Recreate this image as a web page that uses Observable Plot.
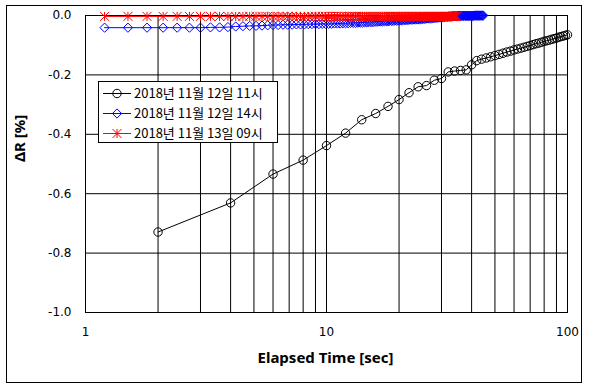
<!DOCTYPE html>
<html>
<head>
<meta charset="utf-8">
<script src="https://cdn.jsdelivr.net/npm/d3@7"></script>
<script src="https://cdn.jsdelivr.net/npm/@observablehq/plot@0.6"></script>
<style>
  body { margin: 0; background: #fff; }
  #wrap { position: relative; width: 589px; height: 388px; overflow: hidden; background: #fff; }
  #frame { position: absolute; left: 6px; top: 5px; width: 576px; height: 378px; box-sizing: border-box; border: 1px solid #000; }
  #wrap svg { position: absolute; left: 0; top: 0; }
</style>
</head>
<body>
<div id="wrap"><div id="frame"></div></div>
<script>
// ---- data ----
const seriesNames = ["2018년 11월 12일 11시", "2018년 11월 12일 14시", "2018년 11월 13일 09시"];
const seriesColors = ["#000000", "#0000ff", "#ff0000"];

// series 1 (black, circles)
const blackT = [2,4,6,8,10,12,14,16,18,20,22,24,26,28,30,32,34,36,38,40,
  42,44,46,48,50,52,54,56,58,60,62,64,66,68,70,72,74,76,78,80,
  82,84,86,88,90,92,94,96,98,100];
const blackY = [-0.729,-0.631,-0.534,-0.487,-0.438,-0.396,-0.351,-0.330,-0.306,-0.283,
  -0.260,-0.240,-0.236,-0.218,-0.212,-0.190,-0.187,-0.185,-0.183,-0.166,
  -0.152,-0.147,-0.143,-0.139,-0.135,-0.131,-0.127,-0.123,-0.120,-0.116,
  -0.113,-0.110,-0.107,-0.104,-0.101,-0.098,-0.095,-0.093,-0.090,-0.087,
  -0.085,-0.083,-0.080,-0.078,-0.076,-0.073,-0.071,-0.069,-0.067,-0.065];

// sampling times of series 2 (blue) — series 3 (red) uses the first 113 of them
const sampleT = [1.2,1.5,1.8,2.1,2.4,2.7,3.0,3.3,3.6,3.9,
  4.2,4.5,4.8,5.1,5.4,5.7,6.0,6.3,6.6,6.9,
  7.2,7.5,7.8,8.1,8.4,8.7,9.0,9.3,9.6,9.9,
  10.2,10.5,10.8,11.1,11.4,11.7,12.0,12.3,12.6,12.9,
  13.2,13.5,13.8,14.1,14.4,14.7,15.0,15.3,15.6,15.9,
  16.2,16.5,16.8,17.1,17.4,17.7,18.0,18.3,18.6,18.9,
  19.2,19.5,19.8,20.1,20.4,20.7,21.0,21.3,21.6,21.9,
  22.2,22.5,22.8,23.1,23.4,23.7,24.0,24.3,24.6,24.9,
  25.2,25.5,25.8,26.1,26.4,26.7,27.0,27.3,27.6,27.9,
  28.2,28.5,28.8,29.1,29.4,29.7,30.0,30.3,30.6,30.9,
  31.2,31.5,31.8,32.1,32.4,32.7,33.0,33.3,33.6,33.9,
  34.2,34.5,34.8,35.1,35.4,35.7,36.0,36.3,36.6,36.9,
  37.2,37.5,37.8,38.1,38.4,38.7,39.0,39.3,39.6,39.9,
  40.2,40.5,40.8,41.1,41.4,41.7,42.0,42.3,42.6,42.9,
  43.2,43.5,43.8,44.1,44.4,44.7];
const blueY = [-0.041,-0.041,-0.041,-0.041,-0.041,-0.041,-0.041,-0.040,-0.040,-0.039,
  -0.037,-0.036,-0.035,-0.035,-0.034,-0.033,-0.032,-0.032,-0.031,-0.031,
  -0.031,-0.030,-0.030,-0.030,-0.029,-0.029,-0.029,-0.029,-0.028,-0.028,
  -0.028,-0.028,-0.027,-0.027,-0.027,-0.026,-0.026,-0.026,-0.025,-0.025,
  -0.025,-0.024,-0.024,-0.024,-0.023,-0.023,-0.022,-0.022,-0.022,-0.021,
  -0.021,-0.020,-0.020,-0.020,-0.019,-0.019,-0.019,-0.018,-0.018,-0.018,
  -0.017,-0.017,-0.017,-0.016,-0.016,-0.016,-0.015,-0.015,-0.015,-0.014,
  -0.014,-0.014,-0.014,-0.013,-0.013,-0.013,-0.013,-0.012,-0.012,-0.012,
  -0.011,-0.011,-0.010,-0.010,-0.010,-0.009,-0.009,-0.009,-0.008,-0.008,
  -0.008,-0.007,-0.007,-0.007,-0.006,-0.006,-0.006,-0.005,-0.005,-0.005,
  -0.004,-0.004,-0.004,-0.003,-0.003,-0.003,-0.003,-0.002,-0.002,-0.002,
  -0.002,-0.002,-0.002,-0.002,-0.001,-0.001,-0.001,-0.001,-0.001,-0.001,
  -0.001,-0.001,-0.001,-0.001,-0.001,-0.001,-0.001,-0.001,-0.001,-0.001,
  -0.001,-0.001,-0.001,0.000,0.000,0.000,0.000,0.000,0.000,0.000,
  0.000,0.000,0.000,0.000,0.000,0.000];
const redY = [-0.003,-0.003,-0.003,-0.003,-0.003,-0.003,-0.003,-0.003,-0.003,-0.003,
  -0.003,-0.003,-0.003,-0.003,-0.003,-0.003,-0.003,-0.003,-0.003,-0.003,
  -0.003,-0.003,-0.003,-0.003,-0.003,-0.003,-0.003,-0.003,-0.003,-0.003,
  -0.003,-0.003,-0.003,-0.003,-0.003,-0.003,-0.003,-0.003,-0.003,-0.003,
  -0.003,-0.003,-0.003,-0.003,-0.003,-0.003,-0.003,-0.003,-0.003,-0.003,
  -0.003,-0.003,-0.003,-0.003,-0.003,-0.003,-0.003,-0.003,-0.003,-0.003,
  -0.003,-0.003,-0.003,-0.003,-0.003,-0.003,-0.003,-0.003,-0.003,-0.003,
  -0.003,-0.003,-0.003,-0.003,-0.003,-0.003,-0.003,-0.003,-0.003,-0.003,
  -0.003,-0.003,-0.003,-0.003,-0.003,-0.003,-0.003,-0.003,-0.003,-0.003,
  -0.003,-0.003,-0.003,-0.003,-0.003,-0.003,-0.003,-0.003,-0.003,-0.003,
  -0.003,-0.003,-0.003,-0.003,-0.003,-0.003,-0.003,-0.003,-0.003,-0.003,
  -0.003,-0.003,-0.003];

const xTickLabels = [1, 10, 100];
const xGrid = [1,2,3,4,5,6,7,8,9,10,20,30,40,50,60,70,80,90,100];
const yTicks = [0, -0.2, -0.4, -0.6, -0.8, -1.0];
const xTitle = "Elapsed Time [sec]";
const yTitle = "ΔR [%]";

// ---- tables ----
const black = blackT.map((t, i) => ({t, v: blackY[i]}));
const blue = sampleT.map((t, i) => ({t, v: blueY[i]}));
const red = redY.map((v, i) => ({t: sampleT[i], v}));

const star = {
  draw(ctx, size) {
    const r = Math.sqrt(size / Math.PI);
    ctx.moveTo(-r, -r); ctx.lineTo(r, r);
    ctx.moveTo(r, -r); ctx.lineTo(-r, r);
    ctx.moveTo(0, -r); ctx.lineTo(0, r);
  }
};

const chart = Plot.plot({
  width: 589, height: 388,
  marginLeft: 85, marginRight: 22, marginTop: 15, marginBottom: 76,
  x: {type: "log", domain: [1, 100]},
  y: {domain: [-1, 0]},
  style: {fontFamily: "DejaVu Sans", fontSize: "12px", background: "transparent", color: "#000"},
  marks: [
    Plot.ruleX(xGrid, {stroke: "#000", strokeWidth: 1}),
    Plot.ruleY(yTicks, {stroke: "#000", strokeWidth: 1}),
    Plot.frame({stroke: "#000"}),
    Plot.axisX(xTickLabels, {tickSize: 0, tickPadding: 15, tickFormat: d => String(d), label: null, fill: "#000"}),
    Plot.axisY(yTicks, {tickSize: 0, tickPadding: 14, tickFormat: d => d.toFixed(1), label: null, fill: "#000"}),
    Plot.text([xTitle], {frameAnchor: "bottom", dy: 50, dx: -1, fontFamily: "Noto Sans", fontWeight: "bold", fontSize: 15, fill: "#000"}),
    Plot.text([yTitle], {frameAnchor: "left", rotate: -90, dx: -65, dy: -2, fontFamily: "Noto Sans", fontWeight: "bold", fontSize: 15, fill: "#000"}),
    Plot.line(black, {x: "t", y: "v", stroke: seriesColors[0], strokeWidth: 1}),
    Plot.dot(black, {x: "t", y: "v", symbol: "circle", r: 4.2, stroke: seriesColors[0], fill: "none", strokeWidth: 1}),
    Plot.line(blue, {x: "t", y: "v", stroke: seriesColors[1], strokeWidth: 1}),
    Plot.dot(blue, {x: "t", y: "v", symbol: "diamond2", r: 4.15, stroke: seriesColors[1], fill: "none", strokeWidth: 1}),
    Plot.line(red, {x: "t", y: "v", stroke: seriesColors[2], strokeWidth: 1}),
    Plot.dot(red, {x: "t", y: "v", symbol: star, r: 4.5, stroke: seriesColors[2], fill: "none", strokeWidth: 1})
  ]
});
document.getElementById("wrap").appendChild(chart);

// ---- legend ----
const lg = d3.select("#wrap").append("svg")
  .attr("width", 589).attr("height", 388)
  .style("font-family", "'Noto Sans CJK KR', sans-serif");
lg.append("rect").attr("x", 98.5).attr("y", 81.5).attr("width", 179).attr("height", 61)
  .attr("fill", "#fff").attr("stroke", "#000");
const symbols = [d3.symbol(d3.symbolCircle, Math.PI * 4.2 * 4.2)(), d3.symbol(d3.symbolDiamond2, Math.PI * 4.15 * 4.15)(), d3.symbol(star, Math.PI * 4.5 * 4.5)()];
seriesNames.forEach((name, i) => {
  const cy = 93 + i * 20;
  lg.append("line").attr("x1", 103).attr("x2", 131).attr("y1", cy + 0.5).attr("y2", cy + 0.5)
    .attr("stroke", seriesColors[i]);
  lg.append("path").attr("d", symbols[i]).attr("transform", `translate(117,${cy + 0.5})`)
    .attr("fill", "none").attr("stroke", seriesColors[i]);
  lg.append("text").attr("x", 134).attr("y", cy).attr("dy", "0.36em")
    .attr("font-size", 13).attr("fill", "#000").text(name);
});
</script>
</body>
</html>
